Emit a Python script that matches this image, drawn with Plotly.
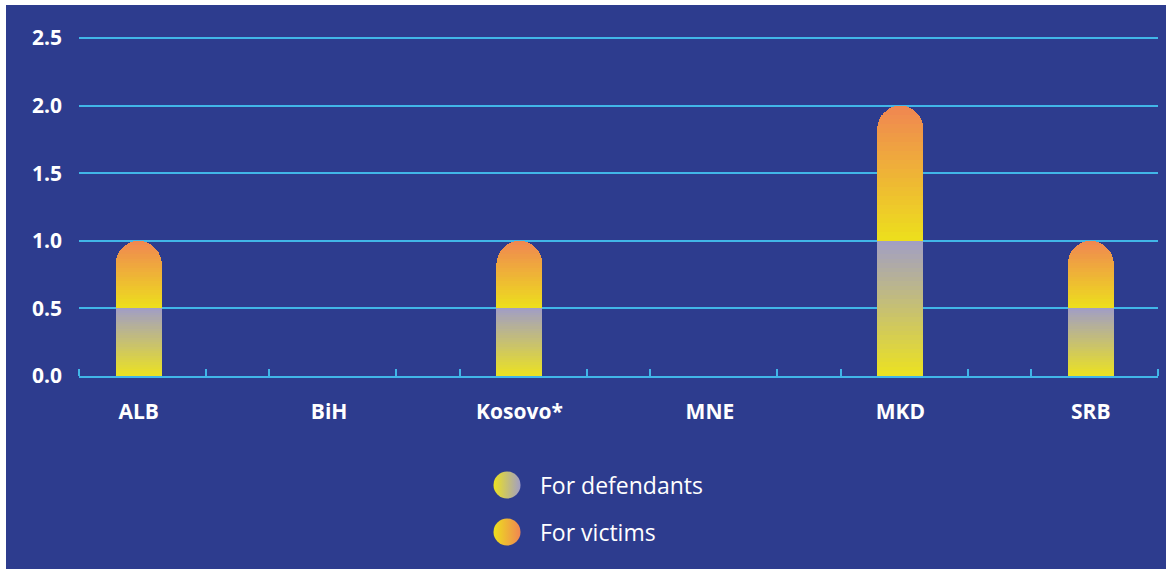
import plotly.graph_objects as go

# ---- data ----
categories = ["ALB", "BiH", "Kosovo*", "MNE", "MKD", "SRB"]
defendants = [0.5, 0.0, 0.5, 0.0, 1.0, 0.5]
victims = [0.5, 0.0, 0.5, 0.0, 1.0, 0.5]
y_ticks = [0.0, 0.5, 1.0, 1.5, 2.0, 2.5]
legend_labels = ["For defendants", "For victims"]

# ---- styles ----
BG = "#2d3c8e"
GRID = "#41b6e8"
WHITE = "#ffffff"
FONT = "Open Sans"
DEF_BOTTOM, DEF_TOP = (236, 226, 32), (161, 158, 197)
VIC_BOTTOM, VIC_TOP = (237, 224, 28), (240, 134, 82)
N_SLICES = 30

W, H = 1166, 571
ML, MR, MT, MB = 79, 8, 35, 0
plot_h = H - MT - MB
main_bottom_px = 376
y_dom0 = (H - main_bottom_px) / plot_h
px_per_unit = (main_bottom_px - 38) / 2.5
y_top = (main_bottom_px - MT) / px_per_unit

x_pos = [3 * i + 0.94 for i in range(len(categories))]
minor_ticks = sorted([3 * i for i in range(len(categories))] + [3 * i + 2 for i in range(len(categories))])


def rgb(c0, c1=None, t=0.0):
    c1 = c0 if c1 is None else c1
    return "rgb({},{},{})".format(*[round(a + (b - a) * t) for a, b in zip(c0, c1)])


fig = go.Figure()

for values, c0, c1 in [(defendants, DEF_BOTTOM, DEF_TOP), (victims, VIC_BOTTOM, VIC_TOP)]:
    for k in range(N_SLICES):
        t = (k + 0.5) / N_SLICES
        fig.add_trace(go.Bar(
            x=x_pos,
            y=[v / N_SLICES for v in values],
            width=0.725,
            marker=dict(color=rgb(c0, c1, t), line=dict(width=0)),
            showlegend=False,
            hoverinfo="skip",
        ))

# custom legend (markers with horizontal gradients)
legend_y = [485, 532]
legend_cols = [(DEF_BOTTOM, DEF_TOP), (VIC_BOTTOM, VIC_TOP)]
for lab, yy, (c0, c1) in zip(legend_labels, legend_y, legend_cols):
    fig.add_trace(go.Scatter(
        x=[507], y=[yy], xaxis="x2", yaxis="y2", mode="markers",
        marker=dict(size=27, color=rgb(c0), line=dict(width=0),
                    gradient=dict(type="horizontal", color=rgb(c1))),
        showlegend=False, hoverinfo="skip", cliponaxis=False,
    ))
    fig.add_annotation(x=538, y=yy, xref="x2", yref="y2", text=lab, showarrow=False,
                       xanchor="left", yanchor="middle",
                       font=dict(family=FONT, size=23, color=WHITE))

fig.add_shape(type="rect", xref="paper", yref="paper", layer="below",
              x0=(6 - ML) / (W - ML - MR), x1=(W + 5 - ML) / (W - ML - MR),
              y0=(H - 569) / plot_h, y1=(H - 5) / plot_h,
              fillcolor=BG, line=dict(width=0))

fig.update_layout(
    width=W, height=H,
    margin=dict(l=ML, r=MR, t=MT, b=MB, pad=0, autoexpand=False),
    paper_bgcolor=WHITE, plot_bgcolor="rgba(0,0,0,0)",
    barmode="stack", barcornerradius="50%",
    showlegend=False,
    font=dict(family=FONT, color=WHITE),
    xaxis=dict(
        domain=[0, 1], range=[0, 17], anchor="y", automargin=False,
        tickmode="array", tickvals=x_pos, ticktext=categories,
        ticks="", showgrid=False, zeroline=False,
        showline=True, linecolor=GRID, linewidth=2,
        tickfont=dict(family=FONT, size=21, color=WHITE, weight="bold"),
        ticklabelstandoff=16,
        minor=dict(tickmode="array", tickvals=minor_ticks, ticks="inside",
                   ticklen=7, tickwidth=1.5, tickcolor=GRID, showgrid=False),
        fixedrange=True,
    ),
    yaxis=dict(
        domain=[y_dom0, 1], range=[0, y_top], anchor="x", automargin=False,
        tickmode="array", tickvals=y_ticks, tickformat=".1f",
        ticks="", showgrid=True, gridcolor=GRID, gridwidth=1.6,
        zeroline=False, showline=False, ticklabelstandoff=16,
        tickfont=dict(family=FONT, size=21, color=WHITE, weight="bold"),
        fixedrange=True,
    ),
    xaxis2=dict(domain=[0, 1], range=[ML, W - MR], anchor="y2", visible=False,
                automargin=False, fixedrange=True),
    yaxis2=dict(domain=[0, y_dom0], range=[H, main_bottom_px], anchor="x2", visible=False,
                automargin=False, fixedrange=True),
)

post = (
    "document.documentElement.style.overflow='hidden';"
    "document.body.style.margin='0';document.body.style.overflow='hidden';"
    "var d=document.querySelector('.plotly-graph-div');"
    "d.style.position='fixed';d.style.left='0px';d.style.top='0px';"
)
fig.write_html("out.html", config={"displayModeBar": False}, post_script=post)
